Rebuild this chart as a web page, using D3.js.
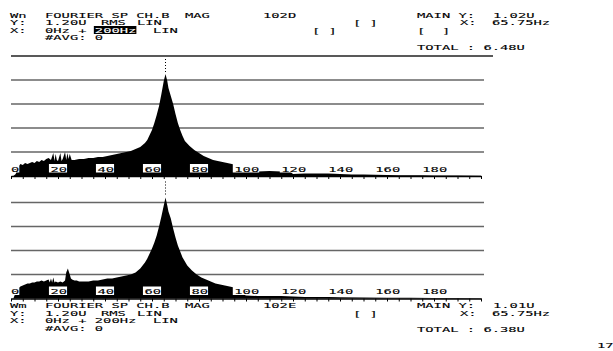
<!DOCTYPE html>
<html>
<head>
<meta charset="utf-8">
<script src="https://cdn.jsdelivr.net/npm/d3@7"></script>
<style>
  html, body { margin: 0; padding: 0; background: #fff; }
  text { font-family: "DejaVu Sans Mono", monospace; font-size: 7.5px; white-space: pre; fill: #000; stroke-width: 0.1px; }
</style>
</head>
<body>
<svg id="chart" width="613" height="351"></svg>
<script>
// spectrum, upper trace (U rms)
const topFreq = [0, 1, 2, 3, 4, 5, 6, 7, 8, 9, 10, 11, 12, 13, 14, 15, 16, 17, 18, 18.5, 19, 19.5, 20, 21, 21.5, 22, 23, 23.5, 24, 24.5, 25, 25.8,
  27, 29, 31, 33, 35, 37, 39, 41, 43, 45, 47, 49, 51, 53, 55, 57, 58, 59, 60, 61, 62, 63, 64, 65, 65.75, 66.5, 67, 68, 69, 70, 71, 72, 73, 74,
  76, 78, 80, 82, 84, 86, 88, 90, 92, 94, 96, 98, 99, 100, 102, 105, 110, 115, 119, 120, 125, 130, 135, 140, 145, 150, 155, 160, 165, 170, 175, 180, 190, 200];
const topMag = [0, 0, 0.02, 0.09, 0.12, 0.11, 0.13, 0.12, 0.13, 0.14, 0.13, 0.15, 0.14, 0.16, 0.15, 0.17, 0.18, 0.16, 0.23, 0.15, 0.22, 0.16, 0.15, 0.23, 0.15, 0.17, 0.24, 0.16, 0.23, 0.17, 0.22, 0.16,
  0.16, 0.17, 0.17, 0.18, 0.18, 0.19, 0.19, 0.2, 0.21, 0.22, 0.23, 0.24, 0.25, 0.27, 0.29, 0.33, 0.36, 0.41, 0.46, 0.53, 0.61, 0.7, 0.82, 0.95, 1.02, 0.95, 0.88, 0.8, 0.72, 0.62, 0.53, 0.46, 0.4, 0.35,
  0.3, 0.26, 0.23, 0.2, 0.18, 0.16, 0.15, 0.14, 0.13, 0.12, 0.11, 0.08, 0.05, 0.04, 0.04, 0.045, 0.05, 0.045, 0.04, 0.02, 0.025, 0.025, 0.025, 0.02, 0.015, 0.015, 0.012, 0.01, 0.008, 0.008, 0.008, 0.005, 0.005, 0.003];

// spectrum, lower trace (U rms)
const botFreq = [0, 1, 1.5, 2, 3, 4, 5, 6, 7, 8, 9, 10, 11, 12, 13, 14, 15, 16, 16.5, 17, 17.5, 18, 18.5, 19, 20, 21, 22, 23, 23.5, 24.2, 25, 25.5, 26,
  27, 28, 29, 31, 33, 35, 37, 39, 41, 43, 45, 47, 49, 51, 53, 55, 57, 58, 59, 60, 61, 62, 63, 64, 65, 65.75, 66.5, 67, 68, 69, 70, 71, 72, 73,
  75, 77, 79, 81, 83, 85, 87, 89, 91, 93, 95, 97, 99, 100, 105, 110, 115, 120, 125, 130, 135, 140, 150, 160, 170, 180, 190, 200];
const botMag = [0, 0, 0.03, 0.07, 0.1, 0.12, 0.13, 0.14, 0.15, 0.15, 0.16, 0.16, 0.17, 0.17, 0.18, 0.17, 0.18, 0.19, 0.16, 0.2, 0.16, 0.21, 0.16, 0.17, 0.16, 0.17, 0.16, 0.18, 0.26, 0.3, 0.24, 0.2, 0.19,
  0.18, 0.18, 0.17, 0.17, 0.17, 0.18, 0.18, 0.19, 0.2, 0.2, 0.21, 0.22, 0.23, 0.24, 0.26, 0.3, 0.36, 0.4, 0.45, 0.5, 0.56, 0.63, 0.72, 0.82, 0.93, 1.01, 0.93, 0.87, 0.8, 0.7, 0.61, 0.53, 0.47, 0.41,
  0.33, 0.28, 0.24, 0.21, 0.19, 0.17, 0.15, 0.14, 0.13, 0.12, 0.11, 0.1, 0.04, 0.03, 0.025, 0.025, 0.025, 0.02, 0.015, 0.015, 0.015, 0.012, 0.01, 0.008, 0.008, 0.006, 0.005, 0.003];

const xTickLabels = [0, 20, 40, 60, 80, 100, 120, 140, 160, 180];
const gridLevels = [0.24, 0.48, 0.72, 0.96];
const markerFreq = 65.75;

// header texts [string, x, row]
const topHeader = [
  ["Wn", 10, 0], ["FOURIER SP CH.B", 45, 0], ["MAG", 185, 0], ["102D", 263, 0],
  ["Y:", 10, 1], ["1.20U", 45, 1], ["RMS", 101, 1], ["LIN", 137, 1],
  ["X:", 10, 2], ["0Hz +", 45, 2], ["LIN", 153, 2],
  ["#AVG: 0", 45, 3],
  ["[ ]", 353, 1], ["[ ]", 312, 2],
  ["MAIN Y:", 417, 0], ["1.02U", 493, 0], ["X:", 460, 1], ["65.75Hz", 492, 1], ["[  ]", 417, 2]
];
const botHeader = [
  ["Wm", 10, 0], ["FOURIER SP CH.B", 45, 0], ["MAG", 185, 0], ["102E", 263, 0],
  ["Y:", 10, 1], ["1.20U", 45, 1], ["RMS", 101, 1], ["LIN", 137, 1],
  ["X:", 10, 2], ["0Hz + 200Hz", 45, 2], ["LIN", 153, 2],
  ["#AVG: 0", 45, 3],
  ["[ ]", 353, 1],
  ["MAIN Y:", 417, 0], ["1.01U", 493, 0], ["X:", 460, 1], ["65.75Hz", 492, 1]
];

const FS = 7.5;
const SX = 1.84;               // squat plotter font
const ADV = 0.602 * FS * SX;   // char advance in px

const svg = d3.select("#chart");
const x = d3.scaleLinear().domain([0, 200]).range([11, 481]);

function txt(g, str, px, py, color) {
  const c = color || "#000";
  return g.append("text")
    .attr("transform", `translate(${px},${py}) scale(${SX},1)`)
    .style("fill", c)
    .style("stroke", c)
    .text(str);
}

function drawPanel(freq, mag, base) {
  const y = d3.scaleLinear().domain([0, 1.2]).range([base, base - 120]);
  const g = svg.append("g");
  const data = freq.map((f, i) => ({ f, v: mag[i] }));

  // grid
  g.selectAll(".grid")
    .data(gridLevels)
    .enter()
    .append("line")
    .attr("class", "grid")
    .attr("x1", 11).attr("x2", 484)
    .attr("y1", (d) => y(d)).attr("y2", (d) => y(d))
    .attr("stroke", "#666")
    .attr("stroke-width", 1.5);

  // spectrum fill
  const area = d3.area()
    .x((d) => x(d.f))
    .y0(base)
    .y1((d) => y(d.v));
  g.append("path").datum(data).attr("d", area).attr("fill", "#000");

  // tick labels in white boxes
  const lab = g.selectAll(".xlab").data(xTickLabels).enter().append("g").attr("class", "xlab");
  lab.each(function (d) {
    const s = String(d);
    const w = s.length * ADV - 1.5;
    const lx = d === 0 ? x(d) : x(d) - w / 2;
    const el = d3.select(this);
    el.append("rect")
      .attr("x", lx - 1.5).attr("y", base - 12)
      .attr("width", w + 3).attr("height", 8.5)
      .attr("fill", "#fff");
    txt(el, s, lx, base - 4.5);
  });

  // axis
  const axis = d3.axisBottom(x)
    .tickValues(d3.range(0, 201, 5))
    .tickSize(3)
    .tickSizeOuter(0)
    .tickFormat("");
  const ax = g.append("g").attr("transform", `translate(0,${base})`).call(axis);
  ax.select(".domain").attr("stroke", "#000").attr("stroke-width", 1.6);
  ax.selectAll(".tick line").attr("stroke", "#000").attr("stroke-width", 1);

  // dotted marker
  const mx = x(markerFreq);
  const peak = mag[freq.indexOf(markerFreq)];
  g.append("line")
    .attr("x1", mx).attr("x2", mx)
    .attr("y1", base - 117).attr("y2", y(peak) - 1)
    .attr("stroke", "#000")
    .attr("stroke-width", 1)
    .attr("stroke-dasharray", "1,2");
  return { g, y };
}

const upper = drawPanel(topFreq, topMag, 176);
drawPanel(botFreq, botMag, 298.5);

// full-scale line of upper trace, runs under TOTAL
svg.append("line")
  .attr("x1", 11).attr("x2", 493)
  .attr("y1", upper.y(1.2)).attr("y2", upper.y(1.2))
  .attr("stroke", "#222")
  .attr("stroke-width", 1.3);

// headers
const topRows = [17.5, 25, 32.5, 40];
const botRows = [308, 315.5, 323, 330.5];
const hg = svg.append("g");
topHeader.forEach(([s, px, r]) => txt(hg, s, px, topRows[r]));
botHeader.forEach(([s, px, r]) => txt(hg, s, px, botRows[r]));

// inverted span field
const spanX = 45 + 6 * ADV;
hg.append("rect")
  .attr("x", spanX - 1).attr("y", topRows[2] - 6.5)
  .attr("width", 5 * ADV + 1).attr("height", 8)
  .attr("fill", "#000");
txt(hg, "200Hz", spanX, topRows[2], "#fff");

txt(hg, "TOTAL : 6.48U", 417, 49.5);
txt(hg, "TOTAL : 6.38U", 417, 332);
txt(hg, "17", 597, 348);
</script>
</body>
</html>
